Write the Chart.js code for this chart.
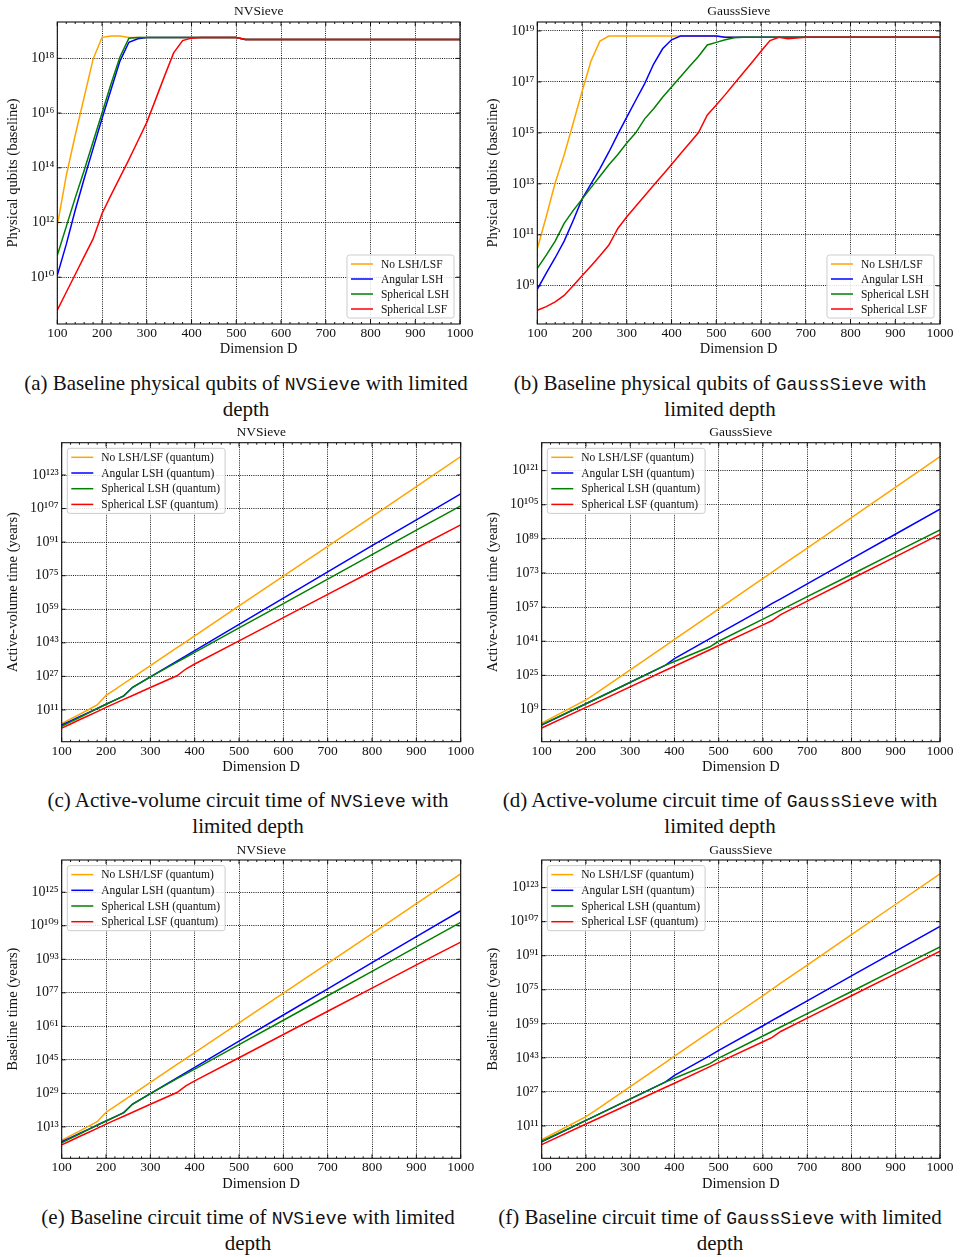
<!DOCTYPE html>
<html><head><meta charset="utf-8">
<script src="https://cdn.jsdelivr.net/npm/chart.js@4.4.1/dist/chart.umd.min.js"></script>
<style>
html,body{margin:0;padding:0;background:#fff;}
body{width:960px;height:1257px;position:relative;overflow:hidden;font-family:"Liberation Serif","DejaVu Serif",serif;}
.cap{position:absolute;text-align:center;font-size:21px;line-height:24px;color:#111;white-space:nowrap;}
.tt{font-family:"Liberation Mono","DejaVu Sans Mono",monospace;font-size:18px;}
</style></head><body>
<div class="cap" style="left:0;top:371px;width:492px">(a) Baseline physical qubits of <span class="tt">NVSieve</span> with limited<br>depth</div>
<div class="cap" style="left:480px;top:371px;width:480px">(b) Baseline physical qubits of <span class="tt">GaussSieve</span> with<br>limited depth</div>
<div class="cap" style="left:0;top:788px;width:496px">(c) Active-volume circuit time of <span class="tt">NVSieve</span> with<br>limited depth</div>
<div class="cap" style="left:480px;top:788px;width:480px">(d) Active-volume circuit time of <span class="tt">GaussSieve</span> with<br>limited depth</div>
<div class="cap" style="left:0;top:1205px;width:496px">(e) Baseline circuit time of <span class="tt">NVSieve</span> with limited<br>depth</div>
<div class="cap" style="left:480px;top:1205px;width:480px">(f) Baseline circuit time of <span class="tt">GaussSieve</span> with limited<br>depth</div>
<script>
// ---------- DATA (values are log10 exponents) ----------
const dimsQubitsNV = [100,120,140,160,180,200,220,240,260,280,300,320,340,360,380,400,420,440,460,480,500,520,600,700,800,900,1000];
const qubitsNVNoLshExp   = [11.89,13.71,15.19,16.58,17.97,18.77,18.82,18.82,18.76,18.76,18.76,18.76,18.76,18.76,18.76,18.76,18.76,18.76,18.76,18.76,18.76,18.69,18.69,18.69,18.69,18.69,18.69];
const qubitsNVAngularExp = [10.07,11.2,12.45,13.6,14.7,15.8,16.85,17.9,18.59,18.72,18.76,18.76,18.76,18.76,18.76,18.76,18.76,18.76,18.76,18.76,18.76,18.69,18.69,18.69,18.69,18.69,18.69];
const qubitsNVSphLshExp  = [10.8,11.85,12.9,13.9,14.95,16.0,17.06,18.05,18.74,18.76,18.76,18.76,18.76,18.76,18.76,18.76,18.76,18.76,18.76,18.76,18.76,18.69,18.69,18.69,18.69,18.69,18.69];
const qubitsNVSphLsfExp  = [8.8,9.45,10.1,10.75,11.4,12.33,13.0,13.65,14.3,14.98,15.66,16.51,17.37,18.2,18.65,18.74,18.76,18.76,18.76,18.76,18.76,18.69,18.69,18.69,18.69,18.69,18.69];

const dimsQubitsGauss = [100,120,140,160,180,200,220,240,260,280,300,320,340,360,380,400,420,440,460,480,500,520,540,560,580,600,620,640,660,680,700,800,900,1000];
const qubitsGaussNoLshExp   = [10.45,11.72,13.04,14.13,15.37,16.62,17.82,18.6,18.8,18.8,18.8,18.8,18.8,18.8,18.8,18.8,18.8,18.8,18.8,18.8,18.8,18.75,18.75,18.75,18.75,18.75,18.75,18.75,18.75,18.75,18.75,18.75,18.75,18.75];
const qubitsGaussAngularExp = [8.86,9.5,10.1,10.75,11.55,12.4,13.0,13.6,14.25,14.95,15.62,16.28,16.93,17.7,18.3,18.65,18.8,18.8,18.8,18.8,18.8,18.75,18.75,18.75,18.75,18.75,18.75,18.75,18.75,18.75,18.75,18.75,18.75,18.75];
const qubitsGaussSphLshExp  = [9.68,10.2,10.75,11.45,11.95,12.4,12.85,13.3,13.75,14.15,14.6,15.0,15.55,15.95,16.4,16.8,17.2,17.6,18.0,18.45,18.55,18.65,18.73,18.75,18.75,18.75,18.75,18.75,18.75,18.75,18.75,18.75,18.75,18.75];
const qubitsGaussSphLsfExp  = [8.04,8.18,8.37,8.62,9.0,9.39,9.78,10.18,10.6,11.25,11.71,12.12,12.53,12.94,13.35,13.76,14.18,14.59,15.0,15.7,16.09,16.5,16.93,17.35,17.77,18.2,18.62,18.75,18.69,18.72,18.75,18.75,18.75,18.75];

const dimsTimeNV = [100,120,140,160,180,200,220,240,260,280,300,360,380,400,500,600,700,800,900,1000];
const avTimeNVNoLshExp   = [4.5,6.7,8.9,11.1,13.4,17.9,20.7,23.6,26.4,29.3,32.1,40.7,43.5,46.3,60.6,74.8,89.0,103.2,117.5,131.8];
const avTimeNVAngularExp = [3.8,5.8,7.8,9.7,11.7,13.7,15.7,17.7,21.8,24.3,26.8,34.3,36.8,39.3,51.8,64.3,76.8,89.3,101.6,114.0];
const avTimeNVSphLshExp  = [3.2,5.3,7.4,9.5,11.6,13.7,15.7,17.7,21.8,24.3,26.8,33.8,36.1,38.4,50.1,61.7,73.4,85.0,96.7,108.3];
const avTimeNVSphLsfExp  = [2.3,4.3,6.3,8.2,10.2,12.2,14.1,16.0,17.9,19.8,21.7,27.3,30.5,32.9,43.9,55.0,66.1,77.1,88.2,99.2];

const dimsTimeGauss = [100,200,220,380,400,480,500,600,620,640,700,800,900,1000];
const avTimeGaussNoLshExp   = [2.6,13.5,16.2,39.0,41.9,53.3,56.2,70.5,73.3,76.2,84.7,99.0,113.3,127.6];
const avTimeGaussAngularExp = [1.7,11.7,13.7,29.8,32.9,42.2,44.6,56.2,58.6,60.9,67.9,79.6,91.3,102.9];
const avTimeGaussSphLshExp  = [1.9,11.7,13.7,29.8,31.5,38.4,41.0,51.4,53.5,55.6,61.9,72.3,82.8,93.2];
const avTimeGaussSphLsfExp  = [0.3,10.0,11.9,27.4,29.3,37.0,39.0,48.7,50.6,53.5,59.8,70.3,80.7,91.2];

const blTimeNVNoLshExp   = [6.6,8.8,11.0,13.2,15.5,20.0,22.8,25.7,28.5,31.4,34.2,42.8,45.6,48.4,62.7,76.9,91.1,105.3,119.6,133.8];
const blTimeNVAngularExp = [5.9,7.9,9.9,11.8,13.8,15.8,17.8,19.8,23.9,26.4,28.9,36.4,38.9,41.4,53.9,66.4,78.9,91.4,103.8,116.2];
const blTimeNVSphLshExp  = [5.4,7.5,9.6,11.7,13.8,15.8,17.8,19.8,23.9,26.4,28.9,36.0,38.3,40.6,52.3,63.9,75.6,87.2,98.9,110.6];
const blTimeNVSphLsfExp  = [4.4,6.4,8.4,10.3,12.3,14.3,16.2,18.1,20.0,21.9,23.8,29.4,32.6,35.0,46.0,57.1,68.2,79.2,90.3,101.2];

const blTimeGaussNoLshExp   = [4.5,15.4,18.1,40.9,43.8,55.2,58.1,72.3,75.2,78.1,86.6,100.9,115.2,129.5];
const blTimeGaussAngularExp = [3.6,13.6,15.6,31.7,34.8,44.1,46.5,58.1,60.5,62.8,69.8,81.5,93.2,104.8];
const blTimeGaussSphLshExp  = [3.8,13.6,15.6,31.7,33.4,40.3,42.9,53.3,55.4,57.5,63.8,74.2,84.7,95.1];
const blTimeGaussSphLsfExp  = [2.2,11.9,13.8,29.2,31.1,38.9,40.9,50.6,52.5,55.4,61.7,72.2,82.6,93.1];

const labelsPlain   = ['No LSH/LSF','Angular LSH','Spherical LSH','Spherical LSF'];
const labelsQuantum = ['No LSH/LSF (quantum)','Angular LSH (quantum)','Spherical LSH (quantum)','Spherical LSF (quantum)'];

const ticksQubitsNV    = [10,12,14,16,18];
const ticksQubitsGauss = [9,11,13,15,17,19];
const ticksAvNV        = [11,27,43,59,75,91,107,123];
const ticksAvGauss     = [9,25,41,57,73,89,105,121];
const ticksBlNV        = [13,29,45,61,77,93,109,125];
const ticksBlGauss     = [11,27,43,59,75,91,107,123];

// ---------- STYLE ----------
const SERIF = '"Liberation Serif", "DejaVu Serif", serif';
const COLORS = ['#FFA500','#0000FF','#008000','#FF0000'];
const FS_TITLE = 13.5, FS_AXIS = 14.5, FS_XTICK = 13.5, FS_YTICK = 14, FS_LEGEND = 11.5;
const SUP = {'0':'\u2070','1':'\u00B9','2':'\u00B2','3':'\u00B3','4':'\u2074','5':'\u2075','6':'\u2076','7':'\u2077','8':'\u2078','9':'\u2079','-':'\u207B'};
const supStr = n => String(n).split('').map(c => SUP[c]).join('');

const frameTicksPlugin = {
  id: 'frameTicks',
  afterDatasetsDraw(chart) {
    const {ctx, chartArea: a, scales: {x, y}} = chart;
    ctx.save();
    ctx.strokeStyle = '#111';
    ctx.lineWidth = 1;
    ctx.beginPath();
    x.ticks.forEach(t => {
      const p = x.getPixelForValue(t.value);
      ctx.moveTo(p, a.bottom); ctx.lineTo(p, a.bottom - 4);
      ctx.moveTo(p, a.top); ctx.lineTo(p, a.top + 4);
    });
    for (let v = x.min; v <= x.max; v += 20) {
      if (v % 100 === 0) continue;
      const p = x.getPixelForValue(v);
      ctx.moveTo(p, a.bottom); ctx.lineTo(p, a.bottom - 2);
      ctx.moveTo(p, a.top); ctx.lineTo(p, a.top + 2);
    }
    y.ticks.forEach(t => {
      const p = y.getPixelForValue(t.value);
      ctx.moveTo(a.left, p); ctx.lineTo(a.left + 4, p);
      ctx.moveTo(a.right, p); ctx.lineTo(a.right - 4, p);
    });
    ctx.stroke();
    ctx.lineWidth = 1.1;
    ctx.strokeRect(a.left, a.top, a.right - a.left, a.bottom - a.top);
    ctx.restore();
  }
};

const insideLegendPlugin = {
  id: 'insideLegend',
  afterDraw(chart, args, opts) {
    const {ctx, chartArea: a} = chart;
    const items = chart.data.datasets;
    ctx.save();
    ctx.font = FS_LEGEND + 'px ' + SERIF;
    const lineLen = 22, gap = 8, padX = 4, padY = 9, rowH = opts.rowH;
    const tw = Math.max(...items.map(d => ctx.measureText(d.label).width));
    const w = padX + lineLen + gap + tw + padX + 1;
    const h = padY * 2 + rowH * (items.length - 1);
    let bx, by;
    if (opts.corner === 'br') { bx = a.right - 6 - w; by = a.bottom - 6 - h; }
    else { bx = a.left + 5.6; by = a.top + 5.6; }
    ctx.beginPath();
    ctx.roundRect(bx, by, w, h, 2.5);
    ctx.fillStyle = 'rgba(255,255,255,0.85)';
    ctx.fill();
    ctx.strokeStyle = '#cccccc';
    ctx.lineWidth = 1;
    ctx.stroke();
    items.forEach((d, i) => {
      const cy = by + padY + i * rowH;
      ctx.beginPath();
      ctx.strokeStyle = d.borderColor;
      ctx.lineWidth = 1.5;
      ctx.moveTo(bx + padX, cy); ctx.lineTo(bx + padX + lineLen, cy);
      ctx.stroke();
      ctx.fillStyle = '#111';
      ctx.textBaseline = 'middle';
      ctx.textAlign = 'left';
      ctx.fillText(d.label, bx + padX + lineLen + gap, cy + 0.5);
    });
    ctx.restore();
  }
};

function makeChart(spec) {
  const c = spec.canvas, a = spec.area;
  const cv = document.createElement('canvas');
  cv.width = c.w; cv.height = c.h;
  cv.style.cssText = 'position:absolute;left:' + c.left + 'px;top:' + c.top + 'px;width:' + c.w + 'px;height:' + c.h + 'px';
  document.body.appendChild(cv);
  const titleLH = FS_TITLE * 1.2;
  const titlePadTop = spec.titleY - c.top - titleLH / 2;
  const titlePadBottom = (a.t - c.top) - titlePadTop - titleLH;
  const axLH = FS_AXIS * 1.2;
  const yAxisW = a.l - c.left;
  const xAxisH = c.top + c.h - a.b;
  const xTitlePadBottom = (c.top + c.h - spec.xTitleY) - axLH / 2;
  const yTitlePadTop = (spec.yTitleX - c.left) - axLH / 2;
  const xTickPad = 9.3 - FS_XTICK * 1.2 / 2;
  const padRight = c.left + c.w - a.r;
  const orders = [3, 2, 1, 0];
  const datasets = spec.series.map((exps, k) => ({
    label: spec.labels[k],
    data: spec.dims.map((d, i) => ({x: d, y: Math.pow(10, exps[i])})),
    borderColor: COLORS[k], backgroundColor: COLORS[k],
    borderWidth: 1.5, pointRadius: 0, tension: 0, fill: false, order: orders[k]
  }));
  const gridCfg = {color: 'rgba(0,0,0,0.9)', lineWidth: 1, drawTicks: false};
  new Chart(cv, {
    type: 'line',
    data: {datasets},
    options: {
      responsive: false, animation: false, devicePixelRatio: 1, events: [],
      layout: {padding: {left: 0, top: 0, right: padRight, bottom: 0}},
      plugins: {
        legend: {display: false}, tooltip: {enabled: false},
        title: {display: true, text: spec.title, fullSize: false, color: '#111',
                font: {family: SERIF, size: FS_TITLE, weight: 'normal', lineHeight: 1.2},
                padding: {top: titlePadTop, bottom: titlePadBottom}},
        insideLegend: {corner: spec.legendCorner, rowH: spec.legendRowH}
      },
      scales: {
        x: {type: 'linear', min: 100, max: 1000, bounds: 'data',
            ticks: {stepSize: 100, color: '#111', font: {family: SERIF, size: FS_XTICK, lineHeight: 1.2}, padding: xTickPad,
                    maxRotation: 0, autoSkip: false, callback: v => String(v)},
            grid: gridCfg,
            border: {display: false, dash: [1, 1.2]},
            title: {display: true, text: 'Dimension D', color: '#111', font: {family: SERIF, size: FS_AXIS, lineHeight: 1.2},
                    padding: {top: 0, bottom: xTitlePadBottom}},
            afterFit: s => { s.height = xAxisH; }},
        y: {type: 'logarithmic', min: Math.pow(10, spec.yMinExp), max: Math.pow(10, spec.yMaxExp), bounds: 'data',
            afterBuildTicks: s => { s.ticks = spec.yTicks.map(e => ({value: Math.pow(10, e)})); },
            ticks: {color: '#111', font: {family: SERIF, size: FS_YTICK, lineHeight: 1.2}, padding: 3, autoSkip: false,
                    callback: v => '10' + supStr(Math.round(Math.log10(v)))},
            grid: gridCfg,
            border: {display: false, dash: [1, 1.2]},
            title: {display: true, text: spec.yTitle, color: '#111', font: {family: SERIF, size: FS_AXIS, lineHeight: 1.2},
                    padding: {top: yTitlePadTop, bottom: 0}},
            afterFit: s => { s.width = yAxisW; }}
      }
    },
    plugins: [frameTicksPlugin, insideLegendPlugin]
  });
}

const specs = [
  {canvas: {left: 0, top: 0, w: 480, h: 360}, area: {l: 57.3, t: 22, r: 460, b: 324}, titleY: 11.7, xTitleY: 349.3, yTitleX: 13.3,
   title: 'NVSieve', yTitle: 'Physical qubits (baseline)', dims: dimsQubitsNV,
   series: [qubitsNVNoLshExp, qubitsNVAngularExp, qubitsNVSphLshExp, qubitsNVSphLsfExp], labels: labelsPlain,
   yMinExp: 8.29, yMaxExp: 19.33, yTicks: ticksQubitsNV, legendCorner: 'br', legendRowH: 15},
  {canvas: {left: 480, top: 0, w: 480, h: 360}, area: {l: 537.3, t: 22, r: 940, b: 324}, titleY: 11.7, xTitleY: 349.3, yTitleX: 493.3,
   title: 'GaussSieve', yTitle: 'Physical qubits (baseline)', dims: dimsQubitsGauss,
   series: [qubitsGaussNoLshExp, qubitsGaussAngularExp, qubitsGaussSphLshExp, qubitsGaussSphLsfExp], labels: labelsPlain,
   yMinExp: 7.50, yMaxExp: 19.35, yTicks: ticksQubitsGauss, legendCorner: 'br', legendRowH: 15},
  {canvas: {left: 0, top: 420, w: 480, h: 360}, area: {l: 61.7, t: 442.7, r: 460.7, b: 741.7}, titleY: 432.7, xTitleY: 766.7, yTitleX: 13.3,
   title: 'NVSieve', yTitle: 'Active-volume time (years)', dims: dimsTimeNV,
   series: [avTimeNVNoLshExp, avTimeNVAngularExp, avTimeNVSphLshExp, avTimeNVSphLsfExp], labels: labelsQuantum,
   yMinExp: -4.15, yMaxExp: 138.4, yTicks: ticksAvNV, legendCorner: 'tl', legendRowH: 15.7},
  {canvas: {left: 480, top: 420, w: 480, h: 360}, area: {l: 541.7, t: 442.7, r: 940, b: 741.7}, titleY: 432.7, xTitleY: 766.7, yTitleX: 493.3,
   title: 'GaussSieve', yTitle: 'Active-volume time (years)', dims: dimsTimeGauss,
   series: [avTimeGaussNoLshExp, avTimeGaussAngularExp, avTimeGaussSphLshExp, avTimeGaussSphLsfExp], labels: labelsQuantum,
   yMinExp: -6.1, yMaxExp: 134.1, yTicks: ticksAvGauss, legendCorner: 'tl', legendRowH: 15.7},
  {canvas: {left: 0, top: 838, w: 480, h: 360}, area: {l: 61.7, t: 860, r: 460.7, b: 1158.3}, titleY: 850, xTitleY: 1184.3, yTitleX: 13.3,
   title: 'NVSieve', yTitle: 'Baseline time (years)', dims: dimsTimeNV,
   series: [blTimeNVNoLshExp, blTimeNVAngularExp, blTimeNVSphLshExp, blTimeNVSphLsfExp], labels: labelsQuantum,
   yMinExp: -2.0, yMaxExp: 140.4, yTicks: ticksBlNV, legendCorner: 'tl', legendRowH: 15.7},
  {canvas: {left: 480, top: 838, w: 480, h: 360}, area: {l: 541.7, t: 860, r: 940, b: 1158.3}, titleY: 850, xTitleY: 1184.3, yTitleX: 493.3,
   title: 'GaussSieve', yTitle: 'Baseline time (years)', dims: dimsTimeGauss,
   series: [blTimeGaussNoLshExp, blTimeGaussAngularExp, blTimeGaussSphLshExp, blTimeGaussSphLsfExp], labels: labelsQuantum,
   yMinExp: -4.2, yMaxExp: 136.0, yTicks: ticksBlGauss, legendCorner: 'tl', legendRowH: 15.7}
];
specs.forEach(makeChart);
</script>
</body></html>
